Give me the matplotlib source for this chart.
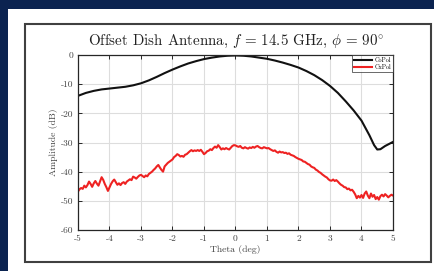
import numpy as np
import matplotlib
matplotlib.use('Agg')
import matplotlib.pyplot as plt
from matplotlib.patches import Rectangle

plt.rcParams['font.family'] = 'cmr10'
plt.rcParams['mathtext.fontset'] = 'cm'
plt.rcParams['axes.unicode_minus'] = False

# CoPol (smooth)
co_theta = [-5.0, -4.75, -4.5, -4.25, -4.0, -3.75, -3.5, -3.25, -3.0, -2.75,
            -2.5, -2.25, -2.0, -1.75, -1.5, -1.25, -1.0, -0.75, -0.5, -0.25,
            0.0, 0.25, 0.5, 0.75, 1.0, 1.25, 1.5, 1.75, 2.0, 2.25,
            2.5, 2.75, 3.0, 3.25, 3.5, 3.75, 4.0, 4.25, 4.4, 4.5,
            4.6, 4.75, 5.0]
co_pol = [-14.0, -13.0, -12.3, -11.8, -11.5, -11.2, -10.9, -10.4, -9.7, -8.7,
          -7.5, -6.2, -5.0, -3.9, -2.9, -2.1, -1.4, -0.9, -0.5, -0.25,
          -0.15, -0.25, -0.5, -0.9, -1.3, -1.9, -2.6, -3.4, -4.3, -5.5,
          -6.9, -8.6, -10.6, -13.0, -15.9, -19.0, -22.5, -27.5, -30.9, -32.4,
          -32.3, -31.2, -29.8]

# CxPol, sampled every 0.05 deg from -5 to 5
cx_theta = np.linspace(-5, 5, 201)
cx_pol = [
    -46.8, -46.0, -45.6, -45.9, -44.8, -45.4, -44.6, -43.4, -44.2, -45.2,
    -44.0, -43.2, -44.1, -44.8, -43.3, -41.9, -42.8, -44.2, -45.3, -46.6,
    -45.4, -44.2, -43.3, -42.7, -43.6, -44.5, -44.0, -44.6, -43.9, -43.6,
    -44.2, -43.4, -43.0, -42.6, -42.9, -41.7, -42.0, -42.4, -41.8, -41.3,
    -41.1, -41.5, -41.9, -41.3, -41.6, -40.8, -40.4, -40.0, -39.4, -38.9,
    -38.2, -37.7, -38.6, -39.4, -40.0, -38.2, -37.6, -37.0, -36.6, -36.2,
    -35.8, -35.0, -34.6, -34.0, -34.3, -34.8, -34.6, -34.9, -34.2, -34.0,
    -33.5, -33.0, -32.6, -33.0, -32.7, -32.9, -32.6, -32.9, -32.5, -33.2,
    -34.0, -33.6, -33.0, -32.8, -32.3, -32.6, -31.9, -31.4, -31.8, -30.9,
    -31.6, -32.4, -32.0, -32.3, -31.9, -32.2, -32.4, -31.8, -31.2, -30.9,
    -31.0, -31.3, -31.5, -31.2, -31.8, -32.0, -31.6, -31.9, -32.1, -31.7,
    -31.9, -31.5, -31.8, -31.4, -31.2, -31.6, -31.9, -32.0, -31.6, -31.8,
    -32.0, -31.9, -32.3, -32.6, -32.9, -32.7, -33.2, -33.5, -33.1, -33.4,
    -33.3, -33.6, -33.5, -33.9, -33.7, -34.2, -34.4, -34.6, -35.0, -35.3,
    -35.6, -35.8, -36.0, -36.5, -36.6, -37.0, -37.4, -37.6, -38.2, -38.5,
    -38.7, -39.3, -39.6, -40.1, -40.4, -40.9, -41.3, -41.7, -42.0, -42.6,
    -43.0, -43.1, -42.7, -43.2, -42.9, -43.4, -44.0, -44.5, -44.8, -45.3,
    -45.4, -46.0, -45.8, -46.4, -46.2, -46.9, -47.8, -49.1, -48.3, -48.9,
    -48.0, -49.0, -47.5, -46.8, -48.2, -49.1, -47.5, -48.6, -48.0, -49.4,
    -48.7, -49.6, -48.4, -47.9, -48.5, -47.7, -48.2, -48.8, -48.3, -47.9,
    -48.2]

xticks = [-5, -4, -3, -2, -1, 0, 1, 2, 3, 4, 5]
yticks = [-60, -50, -40, -30, -20, -10, 0]

fig = plt.figure(figsize=(4.35, 2.71), dpi=100)
fig.patch.set_facecolor('#0b2350')

W, H = 435.0, 271.0
# white slide panel and the grey frame around the figure
fig.patches.append(Rectangle((8 / W, 0), 1 - 8 / W, (H - 9) / H,
                             transform=fig.transFigure, facecolor='white',
                             edgecolor='none', zorder=-2))
fig.patches.append(Rectangle((25 / W, 1 - 262 / H), (431 - 25) / W, (262 - 24) / H,
                             transform=fig.transFigure, facecolor='white',
                             edgecolor='#404040', lw=1.5, zorder=-1))

ax = fig.add_axes([78 / W, 1 - 230 / H, (393 - 78) / W, (230 - 55) / H])
ax.plot(co_theta, co_pol, color='#111111', lw=1.5, label='CoPol')
ax.plot(cx_theta, cx_pol, color='#ee2222', lw=1.5, label='CxPol')

ax.set_xlim(-5, 5)
ax.set_ylim(-60, 0)
ax.set_xticks(xticks)
ax.set_yticks(yticks)
ax.grid(True, color='#dddddd', lw=0.8)
ax.set_axisbelow(True)
ax.tick_params(direction='in', top=True, right=True, length=3, width=0.7,
               labelsize=6.8, labelcolor='#444444', color='#262626', pad=3)
for s in ax.spines.values():
    s.set_color('#262626')
    s.set_linewidth(0.9)

ax.set_xlabel('Theta (deg)', fontsize=7, color='#444444', labelpad=2)
ax.set_ylabel('Amplitude (dB)', fontsize=7, color='#444444', labelpad=2)
ax.set_title(r'Offset Dish Antenna, $f\,=\,14.5$ GHz, $\phi\,=\,90^{\circ}$',
             fontsize=10.8, color='#222222', pad=7)

leg = ax.legend(loc='upper right', fontsize=4.5, frameon=True, fancybox=False,
                borderaxespad=0, handlelength=3.0, handletextpad=0.3,
                borderpad=0.3, labelspacing=0.3)
leg.get_frame().set_edgecolor('#262626')
leg.get_frame().set_linewidth(0.6)

fig.savefig('out.png', dpi=100, facecolor=fig.get_facecolor())
